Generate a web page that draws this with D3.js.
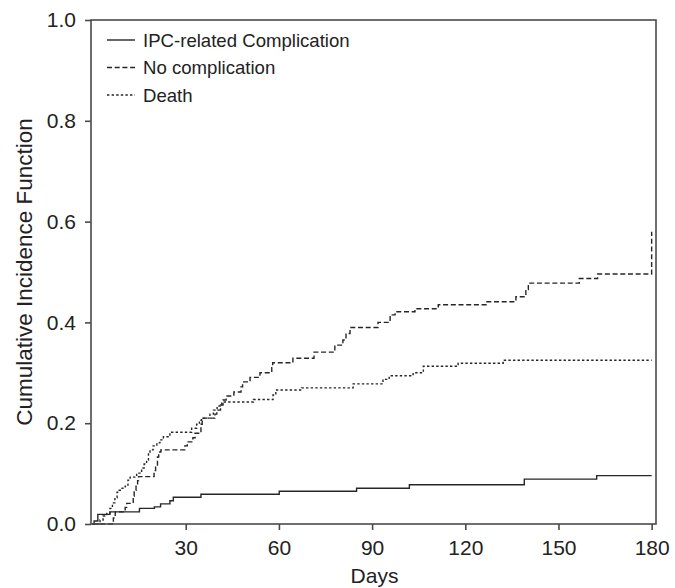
<!DOCTYPE html>
<html>
<head>
<meta charset="utf-8">
<script src="https://cdn.jsdelivr.net/npm/d3@7/dist/d3.min.js"></script>
<style>
  html, body { margin: 0; padding: 0; background: #fff; }
  text { font-family: "Liberation Sans", Arial, Helvetica, sans-serif; fill: #222; }
</style>
</head>
<body>
<svg id="chart" width="675" height="588"></svg>
<script>
// ---- data ----
const seriesNames = ["IPC-related Complication", "No complication", "Death"];

const ipcTimes  = [0, 0.5, 1.7, 5.6, 15.1, 19.9, 21.9, 24.9, 26.0, 34.9, 60.1, 85.0, 102.0, 139.0, 162.3, 180];
const ipcValues = [0, 0.006, 0.019, 0.024, 0.031, 0.034, 0.040, 0.046, 0.053, 0.059, 0.065, 0.071, 0.078, 0.089, 0.096, 0.096];

const noCompTimes  = [0, 6.7, 7.3, 10.5, 11.0, 13.1, 13.4, 14.0, 14.5, 14.8, 19.8, 20.3, 20.9, 21.3, 22.0,
                      29.7, 30.5, 32.3, 33.0, 34.9, 35.3, 39.4, 40.0, 41.2, 42.0, 43.0, 45.5, 47.8, 48.3,
                      50.7, 53.9, 57.7, 58.0, 64.5, 71.3, 78.0, 80.6, 81.6, 82.9, 91.9, 95.8, 97.4, 103.8,
                      111.3, 126.7, 136.3, 139.5, 140.3, 156.7, 162.6, 180];
const noCompValues = [0, 0.012, 0.024, 0.033, 0.041, 0.055, 0.067, 0.080, 0.086, 0.094, 0.106, 0.117, 0.133, 0.143, 0.147,
                      0.155, 0.163, 0.171, 0.180, 0.198, 0.210, 0.218, 0.226, 0.236, 0.246, 0.254, 0.262, 0.272, 0.282,
                      0.291, 0.300, 0.310, 0.320, 0.329, 0.341, 0.355, 0.365, 0.378, 0.390, 0.400, 0.415, 0.421, 0.427,
                      0.435, 0.441, 0.451, 0.465, 0.478, 0.487, 0.496, 0.580];

const deathTimes  = [0, 2.4, 3.4, 4.6, 5.6, 6.4, 7.2, 7.9, 8.6, 9.5, 10.5, 11.4, 12.1, 14.2, 15.8, 16.6, 17.4,
                     18.0, 18.5, 19.5, 20.7, 21.7, 22.8, 24.9, 31.9, 33.5, 34.4, 35.1, 37.8, 38.9, 40.1, 41.6,
                     51.8, 58.1, 59.0, 67.3, 83.9, 93.5, 95.5, 103.2, 106.5, 117.7, 132.2, 180];
const deathValues = [0, 0.008, 0.016, 0.021, 0.031, 0.042, 0.052, 0.063, 0.067, 0.071, 0.075, 0.087, 0.093, 0.101, 0.111, 0.119, 0.127,
                     0.141, 0.147, 0.155, 0.161, 0.167, 0.173, 0.182, 0.190, 0.198, 0.206, 0.210, 0.218, 0.226, 0.234, 0.242,
                     0.247, 0.256, 0.266, 0.270, 0.278, 0.287, 0.294, 0.300, 0.313, 0.319, 0.325, 0.325];

const xTicks = [30, 60, 90, 120, 150, 180];
const yTicks = [0.0, 0.2, 0.4, 0.6, 0.8, 1.0];
const xTitle = "Days";
const yTitle = "Cumulative Incidence Function";

// ---- chart ----
const svg = d3.select("#chart");
const x = d3.scaleLinear().domain([-0.5, 181.4]).range([91, 656]);
const y = d3.scaleLinear().domain([0, 1]).range([524, 20]);

const axisColor = "#4a4a4a";
const lineColor = "#262626";

const series = [
  { name: seriesNames[0], t: ipcTimes, v: ipcValues, dash: null },
  { name: seriesNames[1], t: noCompTimes, v: noCompValues, dash: "5,2.7" },
  { name: seriesNames[2], t: deathTimes, v: deathValues, dash: "2.4,2.2" }
];

const line = d3.line()
  .x(d => x(d[0]))
  .y(d => y(d[1]))
  .curve(d3.curveStepAfter);

series.forEach(s => {
  const pts = s.t.map((t, i) => [t, s.v[i]]);
  svg.append("path")
    .datum(pts)
    .attr("d", line)
    .attr("fill", "none")
    .attr("stroke", lineColor)
    .attr("stroke-width", 1.4)
    .attr("stroke-dasharray", s.dash);
});

// frame
const [x0, x1] = x.range();
const [y0, y1] = y.range();
svg.append("rect")
  .attr("x", x0).attr("y", y1)
  .attr("width", x1 - x0).attr("height", y0 - y1)
  .attr("fill", "none").attr("stroke", axisColor).attr("stroke-width", 1.6);

// axes
const yAxis = svg.append("g")
  .attr("transform", `translate(${x0},0)`)
  .call(d3.axisLeft(y).tickValues(yTicks).tickFormat(d3.format(".1f")).tickSize(6).tickSizeOuter(0).tickPadding(9));
const xAxis = svg.append("g")
  .attr("transform", `translate(0,${y0})`)
  .call(d3.axisBottom(x).tickValues(xTicks).tickFormat(d3.format("d")).tickSize(6).tickSizeOuter(0).tickPadding(10));

[yAxis, xAxis].forEach(g => {
  g.select(".domain").remove();
  g.selectAll(".tick line").attr("stroke", axisColor).attr("stroke-width", 1.6);
  g.selectAll(".tick text")
    .style("font-family", '"Liberation Sans", Arial, sans-serif')
    .style("font-size", "21px")
    .attr("fill", "#222");
});

// axis titles
svg.append("text")
  .attr("x", (x0 + x1) / 2 + 1).attr("y", 583)
  .attr("text-anchor", "middle")
  .style("font-size", "21px")
  .text(xTitle);

svg.append("text")
  .attr("transform", `translate(32,${(y0 + y1) / 2}) rotate(-90)`)
  .attr("text-anchor", "middle")
  .style("font-size", "22.5px")
  .text(yTitle);

// legend
const legend = svg.append("g");
series.forEach((s, i) => {
  const ly = 40 + i * 27.5;
  legend.append("line")
    .attr("x1", 107).attr("x2", 135)
    .attr("y1", ly).attr("y2", ly)
    .attr("stroke", lineColor).attr("stroke-width", 1.4)
    .attr("stroke-dasharray", s.dash);
  legend.append("text")
    .attr("x", 143).attr("y", ly + 6.5)
    .style("font-size", "18.6px")
    .text(s.name);
});
</script>
</body>
</html>
